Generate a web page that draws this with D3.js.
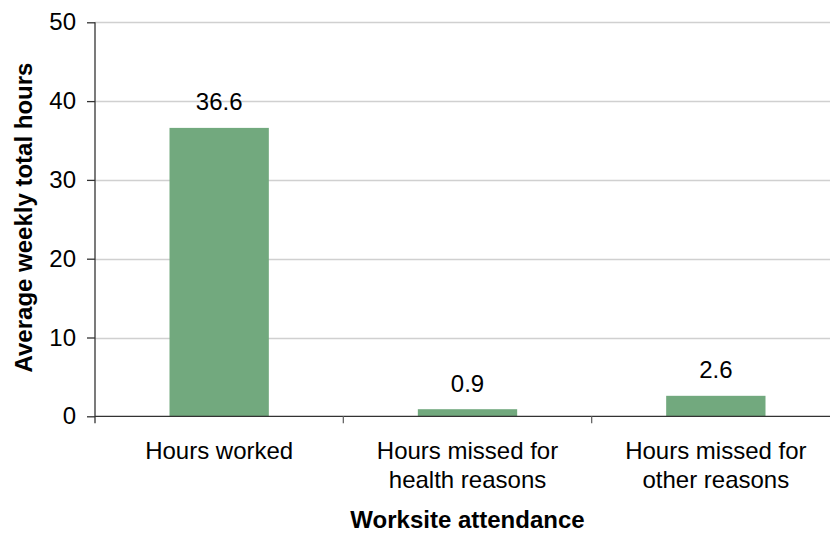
<!DOCTYPE html>
<html>
<head>
<meta charset="utf-8">
<script src="https://cdn.jsdelivr.net/npm/d3@7"></script>
<style>
  body { margin: 0; background: #fff; }
  text { font-family: "Liberation Sans", Arial, sans-serif; fill: #000; }
</style>
</head>
<body>
<script>
// worksite attendance bar chart
const categories = ["Hours worked", "Hours missed for health reasons", "Hours missed for other reasons"];
const catLines = [["Hours worked"], ["Hours missed for", "health reasons"], ["Hours missed for", "other reasons"]];
const hours = [36.6, 0.9, 2.6];
const yTicks = [0, 10, 20, 30, 40, 50];

const width = 830, height = 533;
const plotLeft = 95, plotRight = 840, plotTop = 22.3, plotBottom = 416.3;
const fontSize = 24;

const svg = d3.select("body").append("svg")
    .attr("width", width)
    .attr("height", height);

const x = d3.scaleBand()
    .domain(categories)
    .range([plotLeft, plotRight])
    .paddingInner(0.6)
    .paddingOuter(0.3);

const y = d3.scaleLinear()
    .domain([0, 50])
    .range([plotBottom, plotTop]);

// gridlines
svg.append("g")
    .selectAll("line")
    .data(yTicks.slice(1))
    .join("line")
    .attr("x1", plotLeft)
    .attr("x2", width)
    .attr("y1", d => Math.round(y(d)) + 0.5)
    .attr("y2", d => Math.round(y(d)) + 0.5)
    .attr("stroke", "#d0d0d0")
    .attr("stroke-width", 1.3);

// bars
svg.append("g")
    .selectAll("rect")
    .data(hours)
    .join("rect")
    .attr("x", (d, i) => x(categories[i]))
    .attr("width", x.bandwidth())
    .attr("y", d => y(d))
    .attr("height", d => y(0) - y(d))
    .attr("fill", "#72a97e");

// value labels
svg.append("g")
    .selectAll("text")
    .data(hours)
    .join("text")
    .attr("x", (d, i) => x(categories[i]) + x.bandwidth() / 2)
    .attr("y", d => y(d) - 17.5)
    .attr("text-anchor", "middle")
    .style("font-size", fontSize + "px")
    .text(d => d.toFixed(1));

// y axis
const yAxis = svg.append("g")
    .attr("transform", `translate(${plotLeft},0)`)
    .call(d3.axisLeft(y).tickValues(yTicks).tickSize(8).tickSizeOuter(0).tickPadding(11));
yAxis.select(".domain").remove();
yAxis.selectAll(".tick line").attr("stroke", "#333").attr("stroke-width", 1.3);
yAxis.selectAll(".tick text")
    .style("font-size", fontSize + "px")
    .style("font-family", "'Liberation Sans', Arial, sans-serif")
    .attr("fill", "#000");

svg.append("line")
    .attr("x1", plotLeft).attr("x2", plotLeft)
    .attr("y1", plotTop).attr("y2", plotBottom + 7)
    .attr("stroke", "#333")
    .attr("stroke-width", 1.3);

// x axis
svg.append("line")
    .attr("x1", plotLeft).attr("x2", width)
    .attr("y1", plotBottom).attr("y2", plotBottom)
    .attr("stroke", "#333")
    .attr("stroke-width", 1.3);

svg.append("g")
    .selectAll("line")
    .data(d3.range(1, categories.length))
    .join("line")
    .attr("x1", i => x.range()[0] + i * x.step())
    .attr("x2", i => x.range()[0] + i * x.step())
    .attr("y1", plotBottom)
    .attr("y2", plotBottom + 7)
    .attr("stroke", "#666")
    .attr("stroke-width", 1.3);

// category labels
const cat = svg.append("g")
    .selectAll("text")
    .data(catLines)
    .join("text")
    .attr("text-anchor", "middle")
    .style("font-size", fontSize + "px")
    .attr("transform", (d, i) => `translate(${x(categories[i]) + x.bandwidth() / 2},459)`);
cat.selectAll("tspan")
    .data(d => d)
    .join("tspan")
    .attr("x", 0)
    .attr("y", (d, j) => j * 29)
    .text(d => d);

// axis titles
svg.append("text")
    .attr("x", (plotLeft + plotRight) / 2)
    .attr("y", 528)
    .attr("text-anchor", "middle")
    .style("font-size", fontSize + "px")
    .style("font-weight", "bold")
    .text("Worksite attendance");

svg.append("text")
    .attr("transform", "translate(32,217.5) rotate(-90)")
    .attr("text-anchor", "middle")
    .style("font-size", fontSize + "px")
    .style("font-weight", "bold")
    .text("Average weekly total hours");
</script>
</body>
</html>
